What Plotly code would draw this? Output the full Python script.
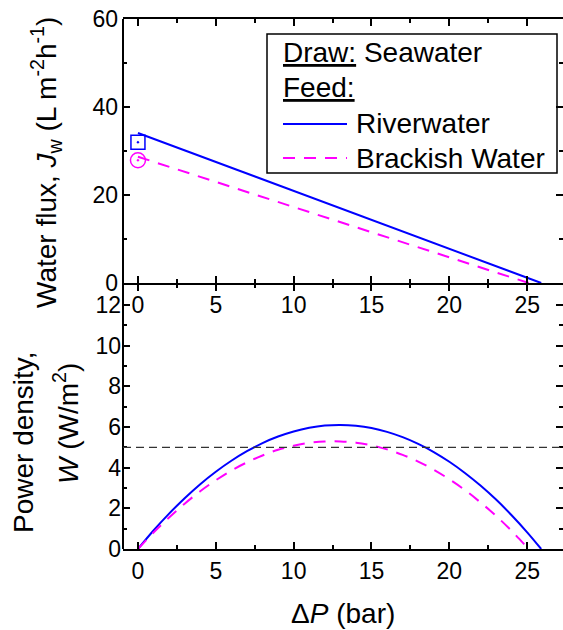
import plotly.graph_objects as go

# ---------------- data ----------------
# Top panel: water flux vs applied pressure
dp_flux_river = [0.0, 25.9]
jw_river = [34.1, 0.0]
dp_flux_brack = [0.0, 25.1]
jw_brack = [28.7, 0.0]

# Initial (zero-pressure) measured points
dp_init = [0.0]
jw_init_river = [32.0]
jw_init_brack = [27.9]

# Bottom panel: power density vs applied pressure
dp_power_river = [0, 1, 2, 3, 4, 5, 6, 7, 8, 9, 10, 11, 12, 13, 14, 15, 16,
                  17, 18, 19, 20, 21, 22, 23, 24, 25, 25.9]
w_river = [0.00, 0.91, 1.74, 2.50, 3.19, 3.80, 4.34, 4.81, 5.21, 5.53, 5.78,
           5.96, 6.07, 6.10, 6.06, 5.95, 5.76, 5.50, 5.17, 4.77, 4.29, 3.74,
           3.12, 2.43, 1.66, 0.82, 0.00]
dp_power_brack = [0, 1, 2, 3, 4, 5, 6, 7, 8, 9, 10, 11, 12, 13, 14, 15, 16,
                  17, 18, 19, 20, 21, 22, 23, 24, 25, 25.1]
w_brack = [0.00, 0.81, 1.55, 2.23, 2.84, 3.38, 3.86, 4.26, 4.60, 4.88, 5.08,
           5.22, 5.29, 5.29, 5.23, 5.10, 4.90, 4.63, 4.30, 3.90, 3.43, 2.90,
           2.29, 1.63, 0.89, 0.08, 0.00]
w_target = 5.0

x_ticks = [0, 5, 10, 15, 20, 25]
x_minor = [2.5, 7.5, 12.5, 17.5, 22.5]
y1_ticks = [0, 20, 40, 60]
y1_minor = [10, 30, 50]
y2_ticks = [0, 2, 4, 6, 8, 10, 12]
y2_minor = [1, 3, 5, 7, 9, 11]

series_names = ["Riverwater", "Brackish Water"]
legend_header = ["<u>Draw:</u> Seawater", "<u>Feed:</u>"]

# ---------------- styling ----------------
BLUE = "#0000FF"
MAGENTA = "#FF00FF"
DASH = "12px,9px"
FONT = "Liberation Sans, Arial, sans-serif"
W, H = 563, 630
ML, MR, MT, MB = 123, 0, 19, 81
PW, PH = W - ML - MR, H - MT - MB


def py(pix):
    return (H - MB - pix) / PH


def px(pix):
    return (pix - ML) / PW


split = py(283)
XR = [-0.96, 27.3]

fig = go.Figure()

fig.add_trace(go.Scatter(x=dp_flux_river, y=jw_river, mode="lines",
                         line=dict(color=BLUE, width=2), name=series_names[0],
                         xaxis="x", yaxis="y"))
fig.add_trace(go.Scatter(x=dp_flux_brack, y=jw_brack, mode="lines",
                         line=dict(color=MAGENTA, width=2, dash=DASH),
                         name=series_names[1], xaxis="x", yaxis="y"))
fig.add_trace(go.Scatter(x=dp_init, y=jw_init_river, mode="markers",
                         marker=dict(symbol="square-open-dot", size=14, color=BLUE,
                                     line=dict(width=1.5, color=BLUE)),
                         xaxis="x", yaxis="y"))
fig.add_trace(go.Scatter(x=dp_init, y=jw_init_brack, mode="markers",
                         marker=dict(symbol="circle-open-dot", size=15, color=MAGENTA,
                                     line=dict(width=1.5, color=MAGENTA)),
                         xaxis="x", yaxis="y"))
fig.add_trace(go.Scatter(x=dp_power_river, y=w_river, mode="lines", line_shape="spline",
                         line=dict(color=BLUE, width=2), name=series_names[0],
                         xaxis="x2", yaxis="y2"))
fig.add_trace(go.Scatter(x=dp_power_brack, y=w_brack, mode="lines", line_shape="spline",
                         line=dict(color=MAGENTA, width=2, dash=DASH),
                         name=series_names[1], xaxis="x2", yaxis="y2"))
# invisible helper trace so the crossing-tick overlay axis is drawn
fig.add_trace(go.Scatter(x=[None], y=[None], mode="lines",
                         hoverinfo="skip", xaxis="x3", yaxis="y"))

axis_common = dict(showgrid=False, zeroline=False, linecolor="black", linewidth=2,
                   tickcolor="black", tickwidth=2, ticklen=7,
                   tickfont=dict(family=FONT, size=23, color="black"))
minor_common = dict(tickmode="array", ticklen=4, tickwidth=2, tickcolor="black")

fig.update_layout(
    width=W, height=H,
    margin=dict(l=ML, r=MR, t=MT, b=MB),
    paper_bgcolor="white", plot_bgcolor="white",
    font=dict(family=FONT, color="black"),
    showlegend=False,
    xaxis=dict(domain=[0, 1], anchor="y", range=XR, tickmode="array", tickvals=x_ticks,
               ticks="inside", showline=True, mirror="ticks",
               minor=dict(tickvals=x_minor, ticks="inside", **minor_common),
               **axis_common),
    xaxis3=dict(overlaying="x", anchor="y", range=XR, tickmode="array", tickvals=x_ticks,
                ticks="outside", showticklabels=False, showline=False,
                minor=dict(tickvals=x_minor, ticks="outside", **minor_common),
                **axis_common),
    yaxis=dict(domain=[split, 1], anchor="x", range=[0, 60], tickmode="array",
               tickvals=y1_ticks, ticks="inside", showline=False, mirror="ticks",
               ticklabelstandoff=4,
               minor=dict(tickvals=y1_minor, ticks="inside", **minor_common),
               **axis_common),
    xaxis2=dict(domain=[0, 1], anchor="y2", range=XR, tickmode="array", tickvals=x_ticks,
                ticks="inside", showline=True, mirror=False,
                minor=dict(tickvals=x_minor, ticks="inside", **minor_common),
                **axis_common),
    yaxis2=dict(domain=[0, split], anchor="x2", range=[0, 12 * (549 - 283) / (549 - 305)],
                tickmode="array", tickvals=y2_ticks, ticks="inside", showline=False,
                mirror="ticks", ticklabelstandoff=1,
                minor=dict(tickvals=y2_minor, ticks="inside", **minor_common),
                **axis_common),
)

# left spine (continuous through both panels)
fig.add_shape(type="line", xref="paper", yref="paper", x0=0, x1=0, y0=0, y1=1,
              line=dict(color="black", width=2))
# reference power-density level
fig.add_shape(type="line", xref="x2 domain", yref="y2", x0=0, x1=1,
              y0=w_target, y1=w_target,
              line=dict(color="#333333", width=1.3, dash="8px,5px"))

# ---------------- legend box (drawn as decoration) ----------------
LEG_FONT = dict(family=FONT, size=28, color="black")
fig.add_shape(type="rect", xref="paper", yref="paper",
              x0=px(267), x1=px(557), y0=py(173), y1=py(34),
              line=dict(color="black", width=1.5), fillcolor="white", layer="below")
header_rows = [53, 88]
for txt, row in zip(legend_header, header_rows):
    fig.add_annotation(text=txt, xref="paper", yref="paper", x=px(281), y=py(row),
                       xanchor="left", yanchor="middle", showarrow=False, font=LEG_FONT)
item_rows = [124, 158]
item_styles = [dict(color=BLUE, width=2), dict(color=MAGENTA, width=2, dash=DASH)]
for name, row, sty in zip(series_names, item_rows, item_styles):
    fig.add_shape(type="line", xref="paper", yref="paper", x0=px(283), x1=px(347),
                  y0=py(row), y1=py(row), line=sty)
    fig.add_annotation(text=name, xref="paper", yref="paper", x=px(354), y=py(row),
                       xanchor="left", yanchor="middle", showarrow=False, font=LEG_FONT)

# ---------------- axis titles ----------------
TITLE_FONT = dict(family=FONT, size=28, color="black")
fig.add_annotation(text="Water flux, <i>J</i><sub>w</sub> (L m<sup>-2</sup>h<sup>-1</sup>)",
                   xref="paper", yref="paper", x=px(46), y=py(163), textangle=-90,
                   xanchor="center", yanchor="middle", showarrow=False, font=TITLE_FONT)
fig.add_annotation(text="Power density,", xref="paper", yref="paper",
                   x=px(24), y=py(442), textangle=-90, xanchor="center",
                   yanchor="middle", showarrow=False, font=TITLE_FONT)
fig.add_annotation(text="<i>W</i> (W/m<sup>2</sup>)", xref="paper", yref="paper",
                   x=px(66), y=py(424), textangle=-90, xanchor="center",
                   yanchor="middle", showarrow=False, font=TITLE_FONT)
fig.add_annotation(text="Δ<i>P</i> (bar)", xref="paper", yref="paper",
                   x=0.5, y=py(613), xanchor="center", yanchor="middle",
                   showarrow=False, font=TITLE_FONT)

fig.write_html("out.html", config={"displayModeBar": False},
               post_script="document.body.style.margin='0';document.body.style.padding='0';")
